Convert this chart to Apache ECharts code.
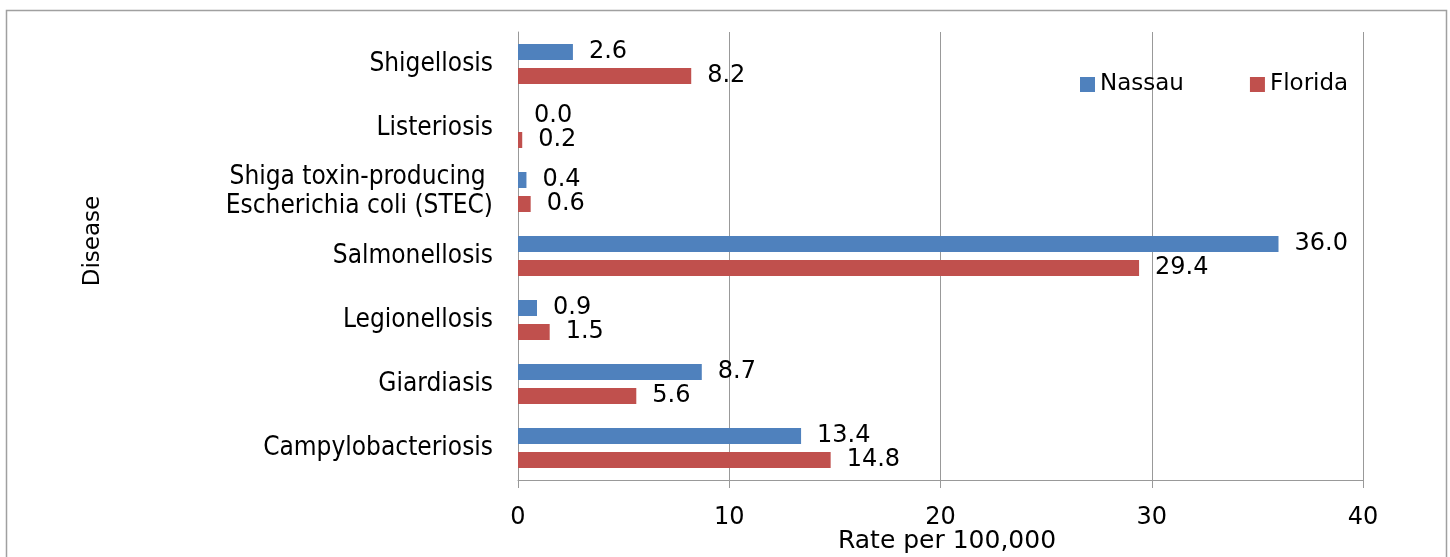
<!DOCTYPE html>
<html>
<head>
<meta charset="utf-8">
<script src="https://cdn.jsdelivr.net/npm/echarts@6/dist/echarts.min.js"></script>
<style>
html,body{margin:0;padding:0;background:#fff;}
#c{width:1450px;height:557px;}
</style>
</head>
<body>
<div id="c"></div>
<script>
const categories = ['Campylobacteriosis', 'Giardiasis', 'Legionellosis', 'Salmonellosis', 'Shiga toxin-producing \nEscherichia coli (STEC)', 'Listeriosis', 'Shigellosis'];
const nassau = [13.4, 8.7, 0.9, 36.0, 0.4, 0.0, 2.6];
const florida = [14.8, 5.6, 1.5, 29.4, 0.6, 0.2, 8.2];
const xTicks = [0, 10, 20, 30, 40];
const yAxisTitle = 'Disease';
const xAxisTitle = 'Rate per 100,000';

const chart = echarts.init(document.getElementById('c'));
const lblFont = 'DejaVu Sans';
const catFont = "'DejaVu Sans Condensed', 'DejaVu Sans'";
const valueLabel = {
  show: true, position: 'right', distance: 16,
  formatter: p => p.value.toFixed(1),
  fontFamily: lblFont, fontSize: 24, color: '#000'
};
chart.setOption({
  animation: false,
  graphic: [{
    type: 'rect', shape: {x: 6.5, y: 10.5, width: 1440, height: 600},
    style: {fill: 'none', stroke: '#a0a0a0', lineWidth: 1.5}, z: -1
  }, {
    type: 'text', x: 93, y: 241, rotation: Math.PI / 2,
    style: {text: yAxisTitle, align: 'center', verticalAlign: 'middle',
      fontFamily: lblFont, fontSize: 23, fill: '#000'}
  }, {
    type: 'text', x: 947, y: 541,
    style: {text: xAxisTitle, align: 'center', verticalAlign: 'middle',
      fontFamily: lblFont, fontSize: 25, fill: '#000'}
  }],
  legend: {
    left: 1075, top: 68, itemWidth: 15, itemHeight: 15, itemGap: 66, itemStyle: {borderWidth: 0},
    icon: 'rect',
    textStyle: {fontFamily: lblFont, fontSize: 23, color: '#000'},
    data: ['Nassau', 'Florida']
  },
  grid: {left: 518, right: 87, top: 32, bottom: 77, containLabel: false, outerBoundsMode: 'none'},
  xAxis: {
    type: 'value', min: 0, max: 40, interval: 10,
    axisLine: {show: true, lineStyle: {color: '#999', width: 1}},
    axisTick: {show: true, length: 8, lineStyle: {color: '#999'}},
    axisLabel: {margin: 26, fontFamily: lblFont, fontSize: 24, color: '#000',
      formatter: v => xTicks.includes(v) ? String(v) : ''},
    splitLine: {show: true, lineStyle: {color: '#999', width: 1}}
  },
  yAxis: {
    type: 'category', data: categories,
    axisLine: {show: true, lineStyle: {color: '#999', width: 1}},
    axisTick: {show: false},
    axisLabel: {margin: 25, fontFamily: catFont, fontSize: 26, color: '#000', lineHeight: 29, align: 'right'},
    splitLine: {show: false}
  },
  series: [
    {name: 'Nassau', type: 'bar', data: nassau, barGap: '50%', barCategoryGap: '37.5%',
      itemStyle: {color: '#4F81BD'}, label: valueLabel},
    {name: 'Florida', type: 'bar', data: florida, barGap: '50%', barCategoryGap: '37.5%',
      itemStyle: {color: '#C0504D'}, label: valueLabel}
  ]
});
</script>
</body>
</html>
